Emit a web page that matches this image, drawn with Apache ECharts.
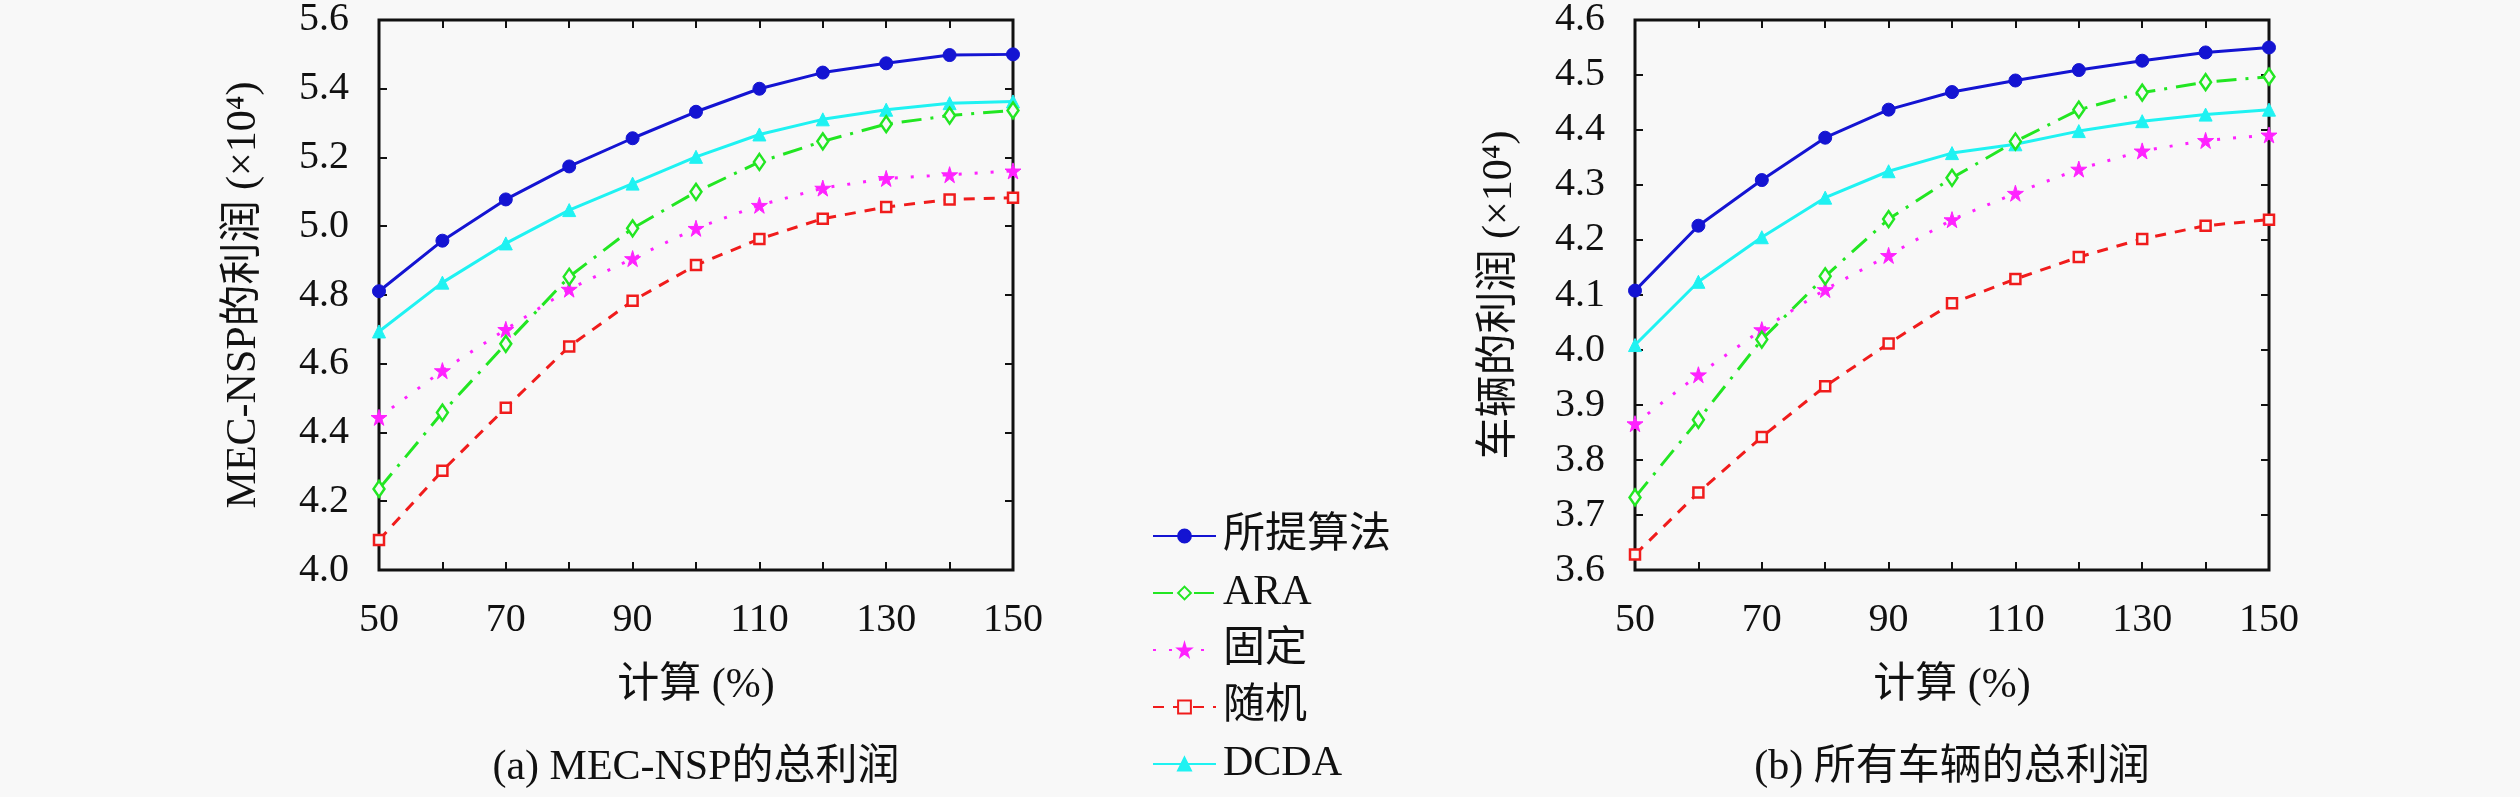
<!DOCTYPE html>
<html>
<head>
<meta charset="utf-8">
<script src="https://cdn.jsdelivr.net/npm/echarts@6/dist/echarts.min.js"></script>
<style>
html,body{margin:0;padding:0;background:#f8f8f8;}
#chart{width:2520px;height:797px;}
</style>
</head>
<body>
<div id="chart"></div>
<script>
// ---- data ----
const computeLevels = [50, 60, 70, 80, 90, 100, 110, 120, 130, 140, 150];
const seriesNames = ['所提算法', 'ARA', '固定', '随机', 'DCDA'];

// (a) MEC-NSP total profit (x10^4)
const mecProposed = [4.811, 4.958, 5.078, 5.174, 5.256, 5.333, 5.400, 5.447, 5.474, 5.498, 5.500];
const mecAra      = [4.236, 4.458, 4.658, 4.853, 4.994, 5.100, 5.187, 5.247, 5.297, 5.322, 5.337];
const mecFixed    = [4.444, 4.580, 4.700, 4.817, 4.906, 4.994, 5.061, 5.111, 5.139, 5.150, 5.161];
const mecRandom   = [4.087, 4.289, 4.472, 4.650, 4.783, 4.887, 4.963, 5.022, 5.056, 5.078, 5.083];
const mecDcda     = [4.694, 4.836, 4.950, 5.047, 5.124, 5.202, 5.267, 5.311, 5.339, 5.358, 5.363];

// (b) total profit of all vehicles (x10^4)
const vehProposed = [4.108, 4.226, 4.309, 4.386, 4.437, 4.469, 4.490, 4.509, 4.526, 4.541, 4.550];
const vehAra      = [3.732, 3.873, 4.019, 4.134, 4.238, 4.313, 4.379, 4.437, 4.468, 4.487, 4.497];
const vehFixed    = [3.866, 3.955, 4.037, 4.110, 4.172, 4.237, 4.285, 4.329, 4.362, 4.381, 4.391];
const vehRandom   = [3.628, 3.741, 3.842, 3.934, 4.012, 4.085, 4.129, 4.169, 4.202, 4.226, 4.237];
const vehDcda     = [4.009, 4.124, 4.205, 4.277, 4.325, 4.358, 4.374, 4.398, 4.416, 4.428, 4.437];

const xTickLabels = [50, 70, 90, 110, 130, 150];
const yLeftRange = [4.0, 5.6, 0.2];
const yRightRange = [3.6, 4.6, 0.1];

// ---- styles ----
const BG = '#f8f8f8';
const SERIF = "'Liberation Serif', 'DejaVu Serif', 'Noto Sans CJK SC', serif";
const FS = 40;
const STAR = 'path://M50,0 L61,35 L98,35 L68,57 L79,91 L50,70 L21,91 L32,57 L2,35 L39,35 Z';
const styles = [
  {color:'#1414d2', type:'solid', symbol:'circle', size:13, fill:'#1414d2'},
  {color:'#22e622', type:[20,9,3,9], symbol:'diamond', size:[11,16], fill:BG},
  {color:'#ff22ff', type:[3,13], symbol:STAR, size:16, fill:'#ff22ff'},
  {color:'#f01c1c', type:[11,9], symbol:'rect', size:10, fill:BG},
  {color:'#1ff2f2', type:'solid', symbol:'triangle', size:13, fill:'#1ff2f2'}
];

function pairs(vals){ return computeLevels.map((x,i)=>[x, vals[i]]); }

function makeSeries(datasets, xi, yi){
  return datasets.map((vals, k) => {
    const s = styles[k];
    return {
      name: seriesNames[k], type:'line', xAxisIndex:xi, yAxisIndex:yi,
      data: pairs(vals), symbol:s.symbol, symbolSize:s.size, showAllSymbol:true,
      lineStyle:{color:s.color, width:3, type:s.type},
      itemStyle:{color:s.fill, borderColor:s.color, borderWidth:(s.fill===BG?2.5:1)},
      emphasis:{disabled:true}, animation:false, z: 10 - k
    };
  });
}

const axisText = {color:'#111', fontFamily:SERIF, fontSize:FS};

function xAxisPair(gi){
  return [
    {type:'value', gridIndex:gi, position:'bottom', min:50, max:150, interval:10,
     axisLine:{show:false}, splitLine:{show:false},
     axisTick:{inside:true, length:8, lineStyle:{color:'#111', width:2}},
     axisLabel:Object.assign({margin:30, formatter:v => (xTickLabels.indexOf(v) >= 0 ? String(v) : '')}, axisText),
     name:'计算 (%)', nameLocation:'middle', nameGap:95,
     nameTextStyle:{color:'#111', fontFamily:SERIF, fontSize:42}},
    {type:'value', gridIndex:gi, position:'top', min:50, max:150, interval:10,
     axisLine:{show:false}, splitLine:{show:false}, axisLabel:{show:false},
     axisTick:{inside:true, length:8, lineStyle:{color:'#111', width:2}}}
  ];
}
function yAxisPair(gi, range, name){
  return [
    {type:'value', gridIndex:gi, position:'left', min:range[0], max:range[1], interval:range[2],
     axisLine:{show:false}, splitLine:{show:false},
     axisTick:{inside:true, length:8, lineStyle:{color:'#111', width:2}},
     axisLabel:Object.assign({margin:30, formatter:v => v.toFixed(1)}, axisText),
     name:name, nameLocation:'middle', nameGap:114,
     nameTextStyle:{color:'#111', fontFamily:SERIF, fontSize:42}},
    {type:'value', gridIndex:gi, position:'right', min:range[0], max:range[1], interval:range[2],
     axisLine:{show:false}, splitLine:{show:false}, axisLabel:{show:false},
     axisTick:{inside:true, length:8, lineStyle:{color:'#111', width:2}}}
  ];
}

const chart = echarts.init(document.getElementById('chart'), null, {renderer:'canvas'});
chart.setOption({
  backgroundColor: BG,
  animation:false,
  grid:[
    {left:379, top:19, width:634, height:551, show:true, borderColor:'#111', borderWidth:3, backgroundColor:'transparent'},
    {left:1635, top:19, width:634, height:551, show:true, borderColor:'#111', borderWidth:3, backgroundColor:'transparent'}
  ],
  xAxis: xAxisPair(0).concat(xAxisPair(1)),
  yAxis: yAxisPair(0, yLeftRange, 'MEC-NSP的利润 (×10⁴)').concat(yAxisPair(1, yRightRange, '车辆的利润 (×10⁴)')),
  legend:{
    orient:'vertical', left:1152, top:514, padding:0, itemWidth:63, itemHeight:16, itemGap:13,
    data: seriesNames,
    textStyle:{color:'#111', fontFamily:SERIF, fontSize:42, lineHeight:44, padding:[0,0,0,2]}
  },
  series: makeSeries([mecProposed, mecAra, mecFixed, mecRandom, mecDcda], 0, 0)
    .concat(makeSeries([vehProposed, vehAra, vehFixed, vehRandom, vehDcda], 2, 2)),
  graphic:[
    {type:'text', x:696, y:768, style:{text:'(a) MEC-NSP的总利润', x:0, y:0, textAlign:'center', textVerticalAlign:'middle', font:"42px " + SERIF, fill:'#111'}},
    {type:'text', x:1952, y:768, style:{text:'(b) 所有车辆的总利润', x:0, y:0, textAlign:'center', textVerticalAlign:'middle', font:"42px " + SERIF, fill:'#111'}}
  ]
});
</script>
</body>
</html>
